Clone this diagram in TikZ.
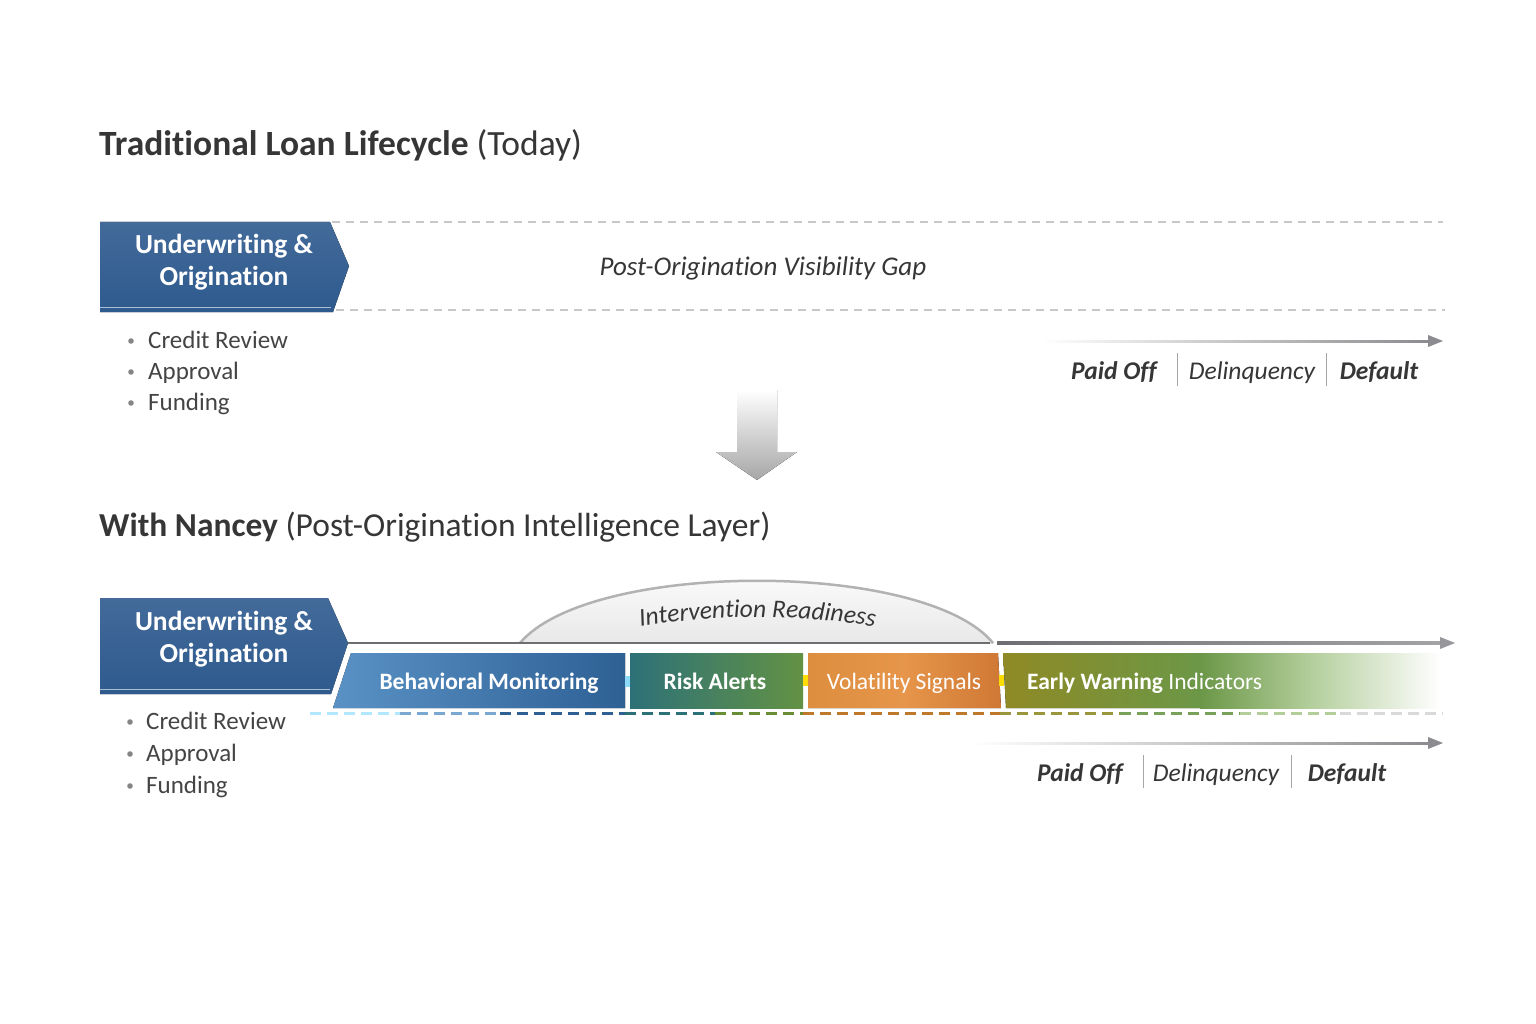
\documentclass[tikz,border=0pt]{standalone}
\usepackage{fontspec}
\setmainfont{Carlito}[Ligatures=NoCommon]
\usetikzlibrary{decorations.text}
\definecolor{ink}{HTML}{363636}
\definecolor{bullink}{HTML}{444444}
\definecolor{navy}{HTML}{2E5A8E}
\definecolor{gapgray}{HTML}{C8C8C8}
\definecolor{arrowgray}{HTML}{8C8C90}
\definecolor{linegray}{HTML}{6E6E72}
\definecolor{dotgray}{HTML}{858585}
\definecolor{bmL}{HTML}{5A92C6}
\definecolor{bmR}{HTML}{2E6094}
\definecolor{raL}{HTML}{2D7178}
\definecolor{raR}{HTML}{639244}
\definecolor{vsL}{HTML}{DD8E3E}
\definecolor{vsM}{HTML}{E6954A}
\definecolor{vsR}{HTML}{CF7835}
\definecolor{ewA}{HTML}{8F8A25}
\definecolor{ewC}{HTML}{6B9747}
\definecolor{ewD}{HTML}{B3CE9B}
\tikzset{
  titlefont/.style={font=\fontsize{33.5}{40}\selectfont\bfseries, text=ink, anchor=base west, inner sep=0},
  boxtext/.style={font=\fontsize{27.5}{32}\selectfont\bfseries, text=white, align=center, inner sep=0},
  bullettext/.style={font=\fontsize{25}{28}\selectfont, text=bullink, anchor=base west, inner sep=0},
  bulletdot/.style={fill=dotgray, draw=none},
  outcome/.style={font=\fontsize{25.5}{28}\selectfont, text=ink, anchor=base, inner sep=0},
  sep/.style={draw=gray!70, line width=0.8pt},
  gapline/.style={draw=gapgray, line width=1.3pt, dash pattern=on 8pt off 6pt},
  seglabel/.style={font=\fontsize{23.5}{26}\selectfont, text=white, anchor=base, inner sep=0},
  dashseg/.style={line width=3pt, dash pattern=on 11pt off 6pt},
}
\begin{document}
\begin{tikzpicture}[x=1pt,y=-1pt]
\useasboundingbox[fill=white] (0,0) rectangle (1536,1024);

% ===== Top section =====
\node[titlefont, font=\fontsize{35.5}{40}\selectfont\bfseries] (t1) at (99,156) {Traditional Loan Lifecycle \mdseries(Today)};

% gap dashed lines
\coordinate (g1a) at (332,222); \coordinate (g1b) at (1443,222);
\coordinate (g2a) at (336,310); \coordinate (g2b) at (1445,310);
\draw[gapline] (g1a) -- (g1b);
\draw[gapline] (g2a) -- (g2b);

% origination box (top)
\fill[top color=navy!90!white, bottom color=navy] (100,222) -- (330,222) -- (349,266) -- (333,312) -- (100,312) -- cycle;
\draw[white, opacity=0.6, line width=1pt] (100,307) -- (331,307);
\node[boxtext] (box1) at (224,262) {Underwriting \&\\Origination};

\node[font=\fontsize{27}{30}\selectfont\itshape, text=ink] (gap) at (763,268) {Post-Origination Visibility Gap};

% bullets top
\foreach \y/\t [count=\i] in {348/Credit Review, 379/Approval, 410/Funding}{
  \fill[bulletdot] (131,\y-7) circle (2.8);
  \node[bullettext] (tb\i) at (148,\y) {\t};
}

% outcome arrow top
\coordinate (oa1) at (1040,341); \coordinate (oa2) at (1443,341);
\fill[left color=white, right color=arrowgray] (1040,340) rectangle (1429,342.2);
\fill[arrowgray] (1428,335) -- (oa2) -- (1428,347) -- cycle;
\node[outcome, font=\fontsize{25.5}{28}\selectfont\bfseries\itshape] (po1) at (1114,379) {Paid Off};
\draw[sep] (1177,353) -- (1177,386);
\node[outcome, font=\fontsize{25.5}{28}\selectfont\itshape] (de1) at (1252,379) {Delinquency};
\draw[sep] (1326,353) -- (1326,386);
\node[outcome, font=\fontsize{25.5}{28}\selectfont\bfseries\itshape] (df1) at (1379,379) {Default};

% down arrow
\fill[top color=white, bottom color=gray!70] (737,390) -- (777,390) -- (777,452) -- (797,452) -- (757,480) -- (716,452) -- (737,452) -- cycle;

% ===== Bottom section =====
\node[titlefont] (t2) at (99,536) {With Nancey \mdseries(Post-Origination Intelligence Layer)};

% arc
\fill[top color=white, bottom color=gray!18] (520,643) .. controls (590,560) and (925,560) .. (993,643) -- cycle;
\draw[gray!60, line width=2.5pt] (520,643) .. controls (590,560) and (925,560) .. (993,643);
\path[decorate, decoration={text along path, text align=center, text color=ink,
  text={|\fontsize{25.5}{26}\selectfont\itshape|Intervention Readiness}}]
  (622,630) .. controls (710,613) and (805,613) .. (893,630);

% timeline line
\coordinate (tl0) at (348,643); \coordinate (tl1) at (990,643);
\coordinate (tl2) at (997,643); \coordinate (tl3) at (1455,643);
\draw[linegray, line width=2.5pt] (tl0) -- (tl1);
\fill[left color=linegray, right color=arrowgray!80] (997,641.8) rectangle (1442,644.2);
\fill[arrowgray!90] (1440,637) -- (tl3) -- (1440,649) -- cycle;

% origination box (bottom)
\fill[top color=navy!90!white, bottom color=navy] (100,598) -- (328,598) -- (348,643) -- (331,694) -- (100,694) -- cycle;
\draw[white, opacity=0.6, line width=1pt] (100,689) -- (330,689);
\node[boxtext] (box2) at (224,639) {Underwriting \&\\Origination};

% segments
\fill[left color=bmL, right color=bmR] (351,653) -- (625,653) -- (625,708) -- (333,708) -- cycle;
\fill[left color=raL, right color=raR] (630,653) -- (803,653) -- (803,708) -- (630,708) -- cycle;
\fill[left color=vsL, right color=vsR, middle color=vsM] (808,653) -- (998,653) -- (1001,708) -- (808,708) -- cycle;
\fill[left color=ewA, right color=ewC] (1003,653) -- (1201,653) -- (1201,708) -- (1006,708) -- cycle;
\fill[left color=ewC, right color=ewD] (1200,653) rectangle (1311,708);
\fill[left color=ewD, right color=white] (1310,653) rectangle (1440,708);
% small connectors
\fill[cyan!45] (625,676) rectangle (630,687);
\fill[yellow!80!orange] (803,675) rectangle (808,686);
\fill[yellow!80!orange] (998.5,675) rectangle (1003.5,686);

\node[seglabel] (bm) at (489,689) {\textbf{Behavioral Monitoring}};
\node[seglabel] (ra) at (715,689) {\textbf{Risk Alerts}};
\node[seglabel] (vs) at (904,689) {Volatility Signals};
\node[seglabel, anchor=base west] (ew) at (1027,689) {\textbf{Early Warning} Indicators};

% colored dashed line
\draw[dashseg, draw=blue!30!cyan!30] (310,713) -- (400,713);
\draw[dashseg, draw=bmL!80] (400,713) -- (500,713);
\draw[dashseg, draw=bmR] (500,713) -- (625,713);
\draw[dashseg, draw=raL] (625,713) -- (715,713);
\draw[dashseg, draw=raR!80!olive] (715,713) -- (803,713);
\draw[dashseg, draw=vsR!80!olive] (803,713) -- (1000,713);
\draw[dashseg, draw=ewA!90] (1000,713) -- (1120,713);
\draw[dashseg, draw=ewC!90] (1120,713) -- (1240,713);
\draw[dashseg, draw=ewD] (1240,713) -- (1340,713);
\draw[dashseg, draw=gray!30] (1340,713) -- (1443,713);

% bullets bottom
\foreach \y/\t [count=\i] in {729/Credit Review, 761/Approval, 793/Funding}{
  \fill[bulletdot] (130,\y-7) circle (2.8);
  \node[bullettext] (bb\i) at (146,\y) {\t};
}

% outcome arrow bottom
\coordinate (ob1) at (970,743); \coordinate (ob2) at (1443,743);
\fill[left color=white, right color=arrowgray] (970,742) rectangle (1429,744.2);
\fill[arrowgray] (1428,737) -- (ob2) -- (1428,749) -- cycle;
\node[outcome, font=\fontsize{25.5}{28}\selectfont\bfseries\itshape] (po2) at (1080,781) {Paid Off};
\draw[sep] (1143,755) -- (1143,788);
\node[outcome, font=\fontsize{25.5}{28}\selectfont\itshape] (de2) at (1216,781) {Delinquency};
\draw[sep] (1291,755) -- (1291,788);
\node[outcome, font=\fontsize{25.5}{28}\selectfont\bfseries\itshape] (df2) at (1347,781) {Default};
\end{tikzpicture}
\end{document}
